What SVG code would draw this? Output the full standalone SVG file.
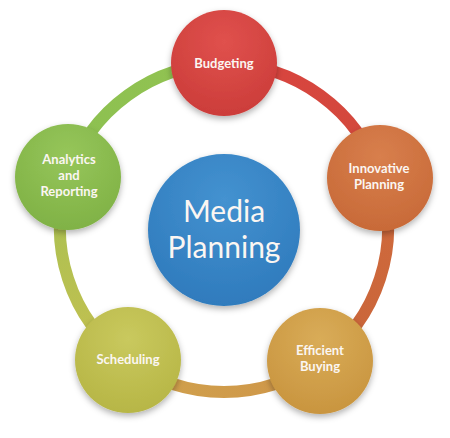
<svg xmlns="http://www.w3.org/2000/svg" width="450" height="438" viewBox="0 0 450 438">
<defs>
<filter id="sh" x="-30%" y="-30%" width="160%" height="170%">
<feDropShadow dx="0" dy="3" stdDeviation="3" flood-color="#000" flood-opacity="0.3"/>
</filter>
<radialGradient id="gRed" cx="50%" cy="30%" r="70%"><stop offset="0" stop-color="#e0514d"/><stop offset="1" stop-color="#cc3d3a"/></radialGradient>
<radialGradient id="gOrange" cx="50%" cy="30%" r="70%"><stop offset="0" stop-color="#d87f4d"/><stop offset="1" stop-color="#c86a38"/></radialGradient>
<radialGradient id="gGold" cx="50%" cy="30%" r="70%"><stop offset="0" stop-color="#d9ac58"/><stop offset="1" stop-color="#c9953f"/></radialGradient>
<radialGradient id="gOlive" cx="50%" cy="30%" r="70%"><stop offset="0" stop-color="#c9c95e"/><stop offset="1" stop-color="#b7b646"/></radialGradient>
<radialGradient id="gGreen" cx="50%" cy="30%" r="70%"><stop offset="0" stop-color="#96c65a"/><stop offset="1" stop-color="#80b246"/></radialGradient>
<radialGradient id="gBlue" cx="50%" cy="30%" r="70%"><stop offset="0" stop-color="#4492d0"/><stop offset="1" stop-color="#2f7bbd"/></radialGradient>
<linearGradient id="a01" gradientUnits="userSpaceOnUse" x1="224" y1="64" x2="380" y2="177"><stop offset="0" stop-color="#d9433f"/><stop offset="1" stop-color="#d24a3c"/></linearGradient>
<linearGradient id="a12" gradientUnits="userSpaceOnUse" x1="380" y1="177" x2="320" y2="361"><stop offset="0" stop-color="#d06a3c"/><stop offset="1" stop-color="#c9653a"/></linearGradient>
<linearGradient id="a23" gradientUnits="userSpaceOnUse" x1="320" y1="361" x2="128" y2="361"><stop offset="0" stop-color="#cf9548"/><stop offset="1" stop-color="#d0a24e"/></linearGradient>
<linearGradient id="a34" gradientUnits="userSpaceOnUse" x1="128" y1="361" x2="68" y2="177"><stop offset="0" stop-color="#c5c050"/><stop offset="1" stop-color="#a8c152"/></linearGradient>
<linearGradient id="a40" gradientUnits="userSpaceOnUse" x1="68" y1="177" x2="224" y2="64"><stop offset="0" stop-color="#8cc050"/><stop offset="1" stop-color="#92c352"/></linearGradient>
</defs>
<style>
.ring{fill:none;stroke-width:12}
.node{filter:url(#sh)}
.t{font-family:Lato,"Open Sans",sans-serif;fill:#fbf6f2;text-anchor:middle;font-weight:700}
.s{font-size:13px}
.b{font-size:30px;font-weight:400}
</style>
<rect width="450" height="438" fill="#ffffff"/>
<g id="connectors">
<path class="ring" stroke="url(#a01)" d="M224 64 A164 164 0 0 1 379.97 177.32"/>
<path class="ring" stroke="url(#a12)" d="M379.97 177.32 A164 164 0 0 1 320.40 360.68"/>
<path class="ring" stroke="url(#a23)" d="M320.40 360.68 A164 164 0 0 1 127.60 360.68"/>
<path class="ring" stroke="url(#a34)" d="M127.60 360.68 A164 164 0 0 1 68.03 177.32"/>
<path class="ring" stroke="url(#a40)" d="M68.03 177.32 A164 164 0 0 1 224 64"/>
</g>
<g id="media-planning">
<circle class="node" cx="224" cy="230" r="76" fill="url(#gBlue)"/>
<text class="t b" x="224" y="222">Media</text>
<text class="t b" x="224" y="258">Planning</text>
</g>
<g id="budgeting">
<circle class="node" cx="224" cy="63" r="53" fill="url(#gRed)"/>
<text class="t s" x="224" y="68">Budgeting</text>
</g>
<g id="innovative-planning">
<circle class="node" cx="380" cy="178" r="53" fill="url(#gOrange)"/>
<text class="t s" x="379" y="173">Innovative</text>
<text class="t s" x="379" y="189">Planning</text>
</g>
<g id="efficient-buying">
<circle class="node" cx="320" cy="361" r="53" fill="url(#gGold)"/>
<text class="t s" x="320" y="355">Efficient</text>
<text class="t s" x="320" y="371">Buying</text>
</g>
<g id="scheduling">
<circle class="node" cx="128" cy="360" r="53" fill="url(#gOlive)"/>
<text class="t s" x="128" y="364">Scheduling</text>
</g>
<g id="analytics-reporting">
<circle class="node" cx="68" cy="177" r="53" fill="url(#gGreen)"/>
<text class="t s" x="69" y="164">Analytics</text>
<text class="t s" x="69" y="180">and</text>
<text class="t s" x="69" y="196">Reporting</text>
</g>
</svg>
